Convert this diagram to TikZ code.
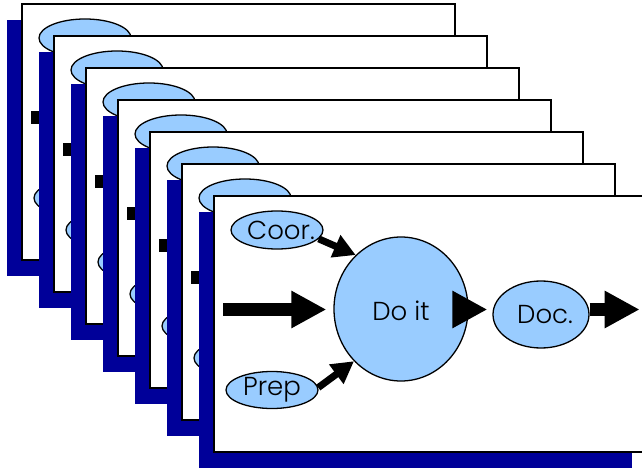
\documentclass[tikz,border=0pt]{standalone}
\usepackage{fontspec}
\setmainfont{Poppins Light}
\usetikzlibrary{arrows.meta,shapes.geometric}
\definecolor{deepblue}{RGB}{0,0,153}
\definecolor{paleblue}{RGB}{153,204,255}
\begin{document}
\begin{tikzpicture}[x=1pt,y=-1pt,
  sheet/.style={draw=black,fill=white,line width=1.6pt},
  bubble/.style={ellipse,draw=black,fill=paleblue,line width=1.3pt,inner sep=0pt},
  word/.style={font=\fontsize{26}{30}\selectfont},
  fatarrow/.style={line width=12.5pt,-{Triangle[length=35pt,width=35pt]}},
  sidearrow/.style={line width=7pt,-{Triangle[length=22pt,width=23pt]}}]
\useasboundingbox (0,0) rectangle (642,470);
% seven sheets, each one slid down and right from the last
\foreach \i in {0,...,6}
{
  \begin{scope}[shift={(22+32*\i,4+32*\i)}]
    \fill[deepblue](-15,16) rectangle ++(433,256);
    \draw[sheet](0,0) rectangle ++(433,256);
    \node[bubble,minimum width=92pt,minimum height=38pt] (coor\i) at (63,34) {};
    \node[bubble,minimum width=92pt,minimum height=37pt] (prep\i) at (58,194) {};
    \node[bubble,minimum width=134pt,minimum height=144pt] (doit\i) at (187,113) {};
    \node[bubble,minimum width=96pt,minimum height=67pt] (doc\i) at (327,118.5) {};
    \coordinate (in\i) at (9,113.5);
    \draw[fatarrow](in\i)--([xshift=-7pt]in\i -| doit\i.west);
    \draw[sidearrow](coor\i.-12)--(doit\i.130);
    \draw[sidearrow](prep\i.3)--(doit\i.228);
    \draw[fatarrow]([xshift=-15pt]in\i -| doit\i.east)--([xshift=-5pt]in\i -| doc\i.west);
    \draw[fatarrow](in\i -| doc\i.east)--++(50,0);
  \end{scope}
}
% labels only on the front sheet
\node[word] at ([xshift=4pt]coor6) {Coor.};
\node[word] at (prep6) {Prep};
\node[word] at ([yshift=-2pt]doit6) {Do it};
\node[word] at ([xshift=4pt]doc6) {Doc.};
\end{tikzpicture}
\end{document}
